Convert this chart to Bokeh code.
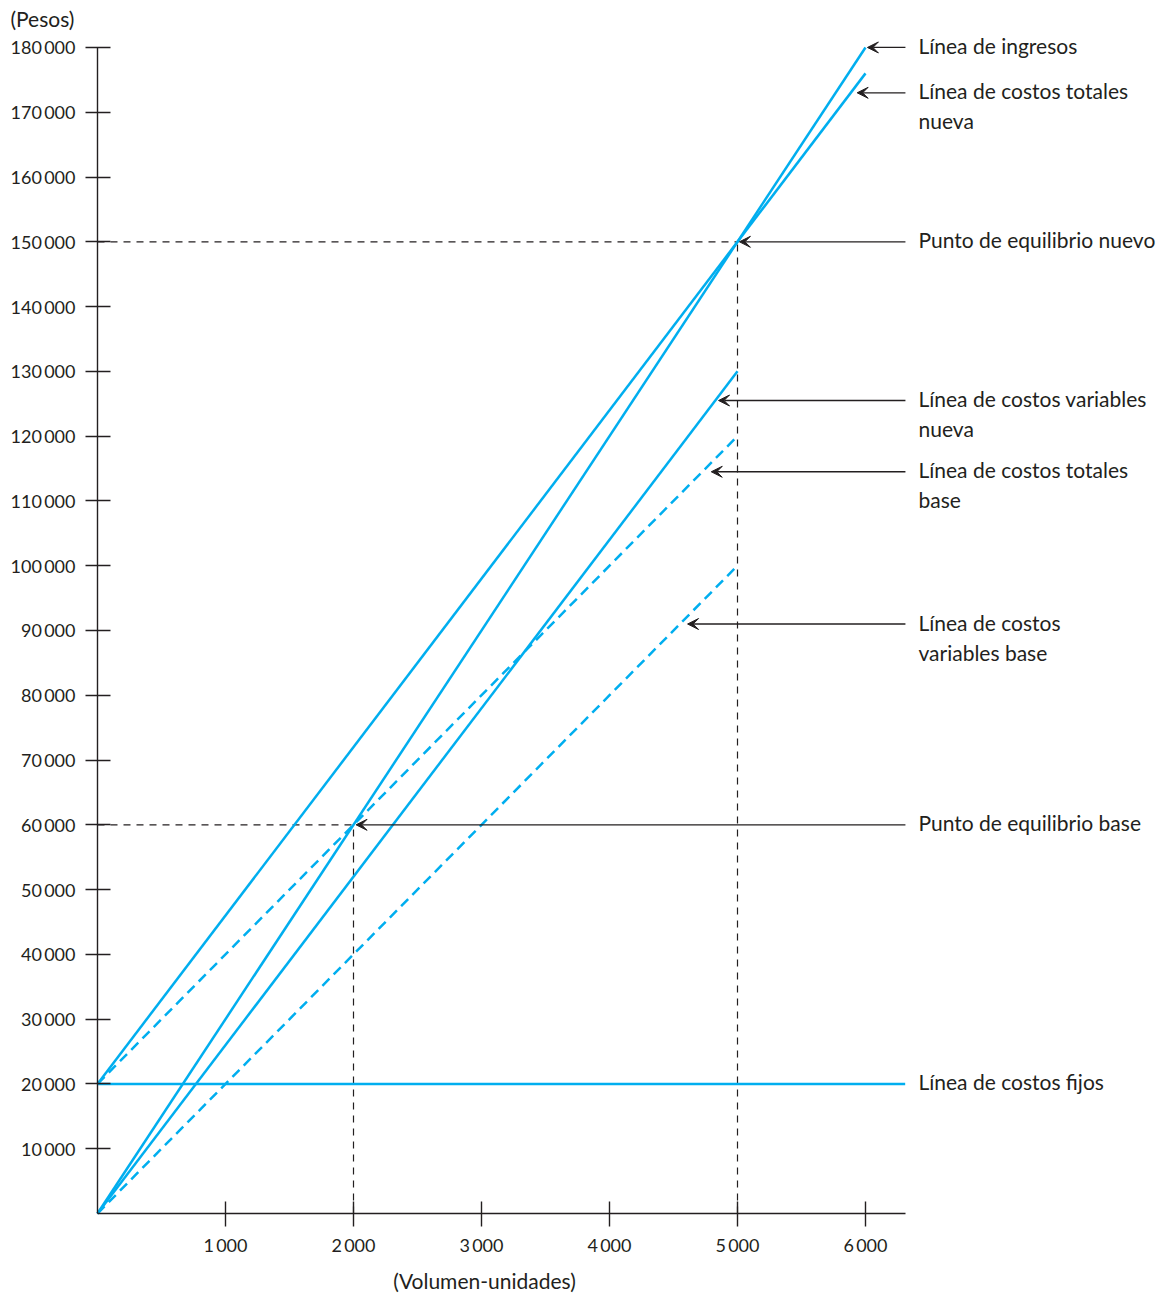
import numpy as np
from bokeh.plotting import figure
from bokeh.models import Range1d, FixedTicker, Arrow, VeeHead, ColumnDataSource, LinearAxis
from bokeh.core.properties import value
from bokeh.embed import file_html
from bokeh.resources import INLINE

# ---------------- data ----------------
rev_x = [0, 6000]
rev_y = [0, 180000]
tc_new_x = [0, 6000]
tc_new_y = [20000, 176000]
vc_new_x = [0, 5000]
vc_new_y = [0, 130000]
tc_base_x = [0, 5000]
tc_base_y = [20000, 120000]
vc_base_x = [0, 5000]
vc_base_y = [0, 100000]
fixed_x = [0, 6310]
fixed_y = [20000, 20000]
be_base = (2000, 60000)
be_new = (5000, 150000)

y_ticks = [10000 * i for i in range(1, 19)]
x_ticks = [1000, 2000, 3000, 4000, 5000, 6000]

FONT = "Lato"
CYAN = "#00AEEF"
INK = "#231f20"

W, H = 1164, 1295
X0, Y0 = 97, 1213          # pixel position of the origin
SX, SY = 0.128, 0.006478   # pixels per data unit

p = figure(width=W, height=H,
           x_range=Range1d(-X0 / SX, (W - X0) / SX),
           y_range=Range1d(-(H - Y0) / SY, Y0 / SY),
           x_axis_location=None, y_axis_location=None,
           output_backend="svg", toolbar_location=None,
           min_border_left=0, min_border_right=0, min_border_top=0,
           min_border_bottom=0)
p.grid.visible = False
p.outline_line_color = None
p.background_fill_color = "white"
p.border_fill_color = "white"

def fmt(v):
    return f"{v:,}".replace(",", "\u2009")

xaxis = LinearAxis(fixed_location=0)
yaxis = LinearAxis(fixed_location=0)
for ax, ticks, bnd in ((yaxis, y_ticks, (0, 180000)), (xaxis, x_ticks, (0, 6310))):
    ax.ticker = FixedTicker(ticks=ticks)
    ax.major_label_overrides = {t: fmt(t) for t in ticks}
    ax.bounds = bnd
    ax.axis_line_color = INK
    ax.axis_line_width = 1.4
    ax.major_tick_line_color = INK
    ax.major_tick_line_width = 1.4
    ax.minor_tick_line_color = None
    ax.major_label_text_font = FONT
    ax.major_label_text_font_size = "18px"
    ax.major_label_text_color = INK

yaxis.major_tick_in = 13
yaxis.major_tick_out = 12
yaxis.major_label_standoff = 10
xaxis.major_tick_in = 12
xaxis.major_tick_out = 13
xaxis.major_label_standoff = 7
p.add_layout(xaxis, "below")
p.add_layout(yaxis, "left")

# dashed reference lines for break-even points
for bx, by in (be_base, be_new):
    p.line([0, bx], [by, by], line_color=INK, line_width=1.2, line_dash="7 6")
    p.line([bx, bx], [0, by], line_color=INK, line_width=1.2, line_dash="7 6")

# cyan lines
p.line(fixed_x, fixed_y, line_color=CYAN, line_width=2.5)
p.line(vc_base_x, vc_base_y, line_color=CYAN, line_width=2.5, line_dash="10 6")
p.line(tc_base_x, tc_base_y, line_color=CYAN, line_width=2.5, line_dash="10 6")
p.line(vc_new_x, vc_new_y, line_color=CYAN, line_width=2.5)
p.line(tc_new_x, tc_new_y, line_color=CYAN, line_width=2.5)
p.line(rev_x, rev_y, line_color=CYAN, line_width=2.5)

# annotations: (lines of text, label y, tip x, tip y)
def on_line(xs, ys, y):
    return float(np.interp(y, ys, xs))

label_x = 6414
tail_x = 6312
annots = [
    (["Línea de ingresos"], 180000, rev_x[-1] + 15, 180000),
    (["Línea de costos totales", "nueva"], 173000, on_line(tc_new_x, tc_new_y, 173000) + 50, 173000),
    (["Punto de equilibrio nuevo"], be_new[1], be_new[0] + 15, be_new[1]),
    (["Línea de costos variables", "nueva"], 125500, on_line(vc_new_x, vc_new_y, 125500) + 25, 125500),
    (["Línea de costos totales", "base"], 114500, on_line(tc_base_x, tc_base_y, 114500) + 70, 114500),
    (["Línea de costos", "variables base"], 91000, on_line(vc_base_x, vc_base_y, 91000) + 60, 91000),
    (["Punto de equilibrio base"], be_base[1], be_base[0] + 20, be_base[1]),
    (["Línea de costos fijos"], fixed_y[0], None, None),
]

first = dict(x=[], y=[], t=[])
second = dict(x=[], y=[], t=[])
for lines, ly, tx, ty in annots:
    first["x"].append(label_x); first["y"].append(ly); first["t"].append(lines[0])
    if len(lines) > 1:
        second["x"].append(label_x); second["y"].append(ly); second["t"].append(lines[1])
    if tx is not None:
        p.add_layout(Arrow(end=VeeHead(size=11, fill_color=INK, line_color=INK, line_width=1),
                           x_start=tail_x, y_start=ly, x_end=tx, y_end=ty,
                           line_color=INK, line_width=1.3))

p.text(x="x", y="y", text="t", source=ColumnDataSource(first),
       text_font=value(FONT), text_font_size="21px", text_color=INK,
       text_align="left", text_baseline="middle", y_offset=-2)
p.text(x="x", y="y", text="t", source=ColumnDataSource(second),
       text_font=value(FONT), text_font_size="21px", text_color=INK,
       text_align="left", text_baseline="middle", y_offset=28)

# axis titles
p.text(x=[-680], y=[184470], text=["(Pesos)"], text_font=value(FONT),
       text_font_size="21px", text_color=INK, text_align="left", text_baseline="middle")
p.text(x=[3023], y=[-10343], text=["(Volumen-unidades)"], text_font=value(FONT),
       text_font_size="21px", text_color=INK, text_align="center", text_baseline="middle")

open("out.html", "w").write(file_html(p, INLINE))
